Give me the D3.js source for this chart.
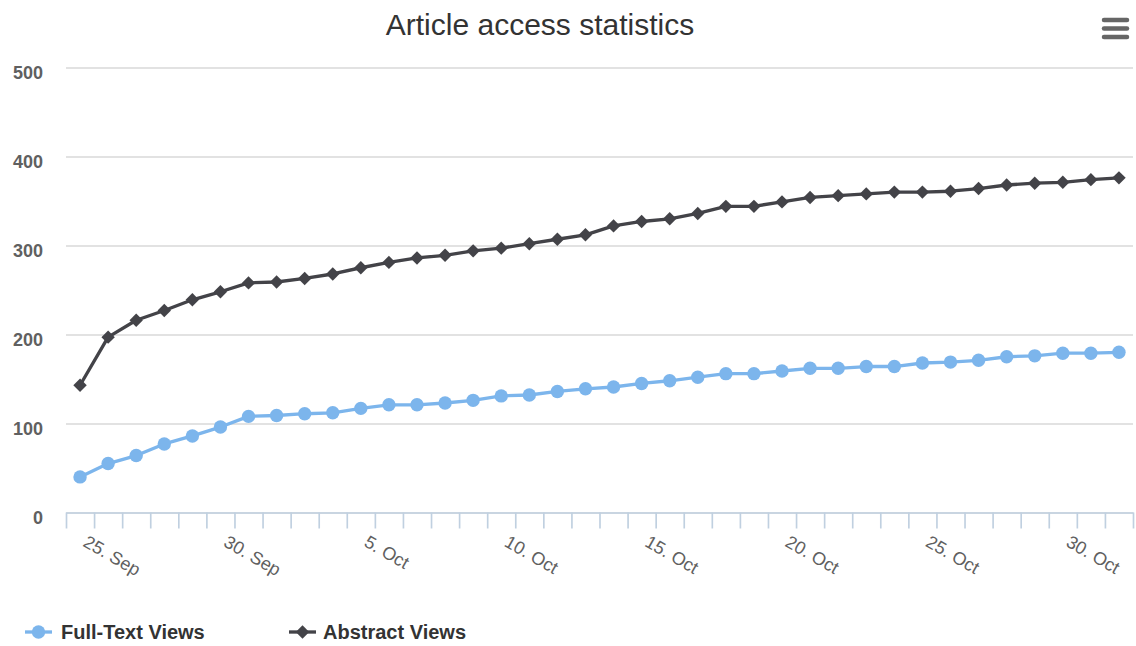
<!DOCTYPE html>
<html>
<head>
<meta charset="utf-8">
<script src="https://cdn.jsdelivr.net/npm/d3@7"></script>
<style>
  html, body { margin: 0; padding: 0; background: #fff; }
  svg { display: block; font-family: "Liberation Sans", Arial, Helvetica, sans-serif; }
</style>
</head>
<body>
<svg id="chart" width="1136" height="646"></svg>
<script>
const categories = [
  "24. Sep","25. Sep","26. Sep","27. Sep","28. Sep","29. Sep","30. Sep",
  "1. Oct","2. Oct","3. Oct","4. Oct","5. Oct","6. Oct","7. Oct","8. Oct","9. Oct","10. Oct",
  "11. Oct","12. Oct","13. Oct","14. Oct","15. Oct","16. Oct","17. Oct","18. Oct","19. Oct","20. Oct",
  "21. Oct","22. Oct","23. Oct","24. Oct","25. Oct","26. Oct","27. Oct","28. Oct","29. Oct","30. Oct","31. Oct"
];
const tickLabels = ["25. Sep","30. Sep","5. Oct","10. Oct","15. Oct","20. Oct","25. Oct","30. Oct"];
const yTicks = [0, 100, 200, 300, 400, 500];
const fullTextViews = [40, 55, 64, 77, 86, 96, 108, 109, 111, 112, 117, 121, 121, 123, 126, 131, 132, 136, 139,
  141, 145, 148, 152, 156, 156, 159, 162, 162, 164, 164, 168, 169, 171, 175, 176, 179, 179, 180];
const abstractViews = [143, 197, 216, 227, 239, 248, 258, 259, 263, 268, 275, 281, 286, 289, 294, 297, 302, 307, 312,
  322, 327, 330, 336, 344, 344, 349, 354, 356, 358, 360, 360, 361, 364, 368, 370, 371, 374, 376];
const seriesNames = ["Full-Text Views", "Abstract Views"];
const seriesColors = ["#7cb5ec", "#434348"];

(function () {
const svg = d3.select("#chart");
const pLeft = 66, pRight = 1133, pTop = 67.5, pBottom = 512.5;
const S = 1.667; // scale factor of the rendered chart

const x = d3.scaleBand().domain(categories).range([pLeft, pRight]).padding(0);
const xc = d => x(d) + x.bandwidth() / 2;
const xIdx = d3.scaleLinear().domain([0, categories.length]).range([pLeft, pRight]);
const y = d3.scaleLinear().domain([0, 500]).range([pBottom, pTop]);

// Title
svg.append("text")
  .attr("x", 540).attr("y", 35)
  .attr("text-anchor", "middle")
  .attr("font-size", 30).attr("fill", "#333333")
  .text("Article access statistics");

// Menu icon
const menu = svg.append("g").attr("stroke", "#666666").attr("stroke-width", 4.5).attr("stroke-linecap", "round");
[20, 28.5, 37].forEach(yy => menu.append("line").attr("x1", 1104).attr("x2", 1127).attr("y1", yy).attr("y2", yy));

// Y axis with gridlines
const yAxis = svg.append("g")
  .attr("transform", `translate(${pLeft},0)`)
  .call(d3.axisLeft(y).tickValues(yTicks).tickSize(-(pRight - pLeft)).tickPadding(23));
yAxis.select(".domain").remove();
yAxis.selectAll(".tick line").attr("stroke", "#D8D8D8").attr("stroke-width", S);
yAxis.selectAll(".tick text")
  .attr("font-family", "Liberation Sans, Arial, sans-serif")
  .attr("font-size", 18).attr("font-weight", "bold").attr("fill", "#606060")
  .attr("dy", 11);

// X axis line + tick marks at band boundaries
const xTickAxis = svg.append("g")
  .attr("transform", `translate(0,${pBottom})`)
  .call(d3.axisBottom(xIdx).tickValues(d3.range(0, categories.length + 1)).tickSize(16).tickSizeOuter(0).tickFormat(""));
xTickAxis.select(".domain").attr("stroke", "#C0D0E0").attr("stroke-width", S);
xTickAxis.selectAll(".tick line").attr("stroke", "#C0D0E0").attr("stroke-width", S);

// X labels
const xLabelAxis = svg.append("g")
  .attr("transform", `translate(0,${pBottom})`)
  .call(d3.axisBottom(x).tickValues(tickLabels).tickSize(0));
xLabelAxis.select(".domain").remove();
xLabelAxis.selectAll(".tick text")
  .attr("font-family", "Liberation Sans, Arial, sans-serif")
  .attr("font-size", 18).attr("fill", "#606060")
  .attr("text-anchor", "start")
  .attr("x", 0).attr("y", 0).attr("dy", 0)
  .attr("transform", "translate(-26,33) rotate(30)");

// Series
const series = [fullTextViews, abstractViews];
const line = d3.line().x((d, i) => xc(categories[i])).y(d => y(d));
const markerR = 6.7;
series.forEach((vals, si) => {
  const g = svg.append("g");
  g.append("path").datum(vals)
    .attr("d", line).attr("fill", "none")
    .attr("stroke", seriesColors[si]).attr("stroke-width", 2 * S)
    .attr("stroke-linejoin", "round").attr("stroke-linecap", "round");
  if (si === 0) {
    g.selectAll("circle").data(vals).join("circle")
      .attr("cx", (d, i) => xc(categories[i])).attr("cy", d => y(d))
      .attr("r", markerR).attr("fill", seriesColors[si]);
  } else {
    g.selectAll("path.m").data(vals).join("path").attr("class", "m")
      .attr("d", d3.symbol(d3.symbolSquare, 2 * markerR * markerR)())
      .attr("transform", (d, i) => `translate(${xc(categories[i])},${y(d)}) rotate(45)`)
      .attr("fill", seriesColors[si]);
  }
});

// Legend
const legendItems = [{ x: 25, tx: 61 }, { x: 289, tx: 323 }];
legendItems.forEach((it, si) => {
  const g = svg.append("g");
  const ly = 632;
  g.append("line").attr("x1", it.x).attr("x2", it.x + 27).attr("y1", ly).attr("y2", ly)
    .attr("stroke", seriesColors[si]).attr("stroke-width", 2 * S);
  if (si === 0) {
    g.append("circle").attr("cx", it.x + 13.5).attr("cy", ly).attr("r", markerR).attr("fill", seriesColors[si]);
  } else {
    g.append("path").attr("d", d3.symbol(d3.symbolSquare, 2 * markerR * markerR)())
      .attr("transform", `translate(${it.x + 13.5},${ly}) rotate(45)`).attr("fill", seriesColors[si]);
  }
  g.append("text").attr("x", it.tx).attr("y", 639)
    .attr("font-size", 20).attr("font-weight", "bold").attr("fill", "#333333")
    .text(seriesNames[si]);
});
})();
</script>
</body>
</html>
